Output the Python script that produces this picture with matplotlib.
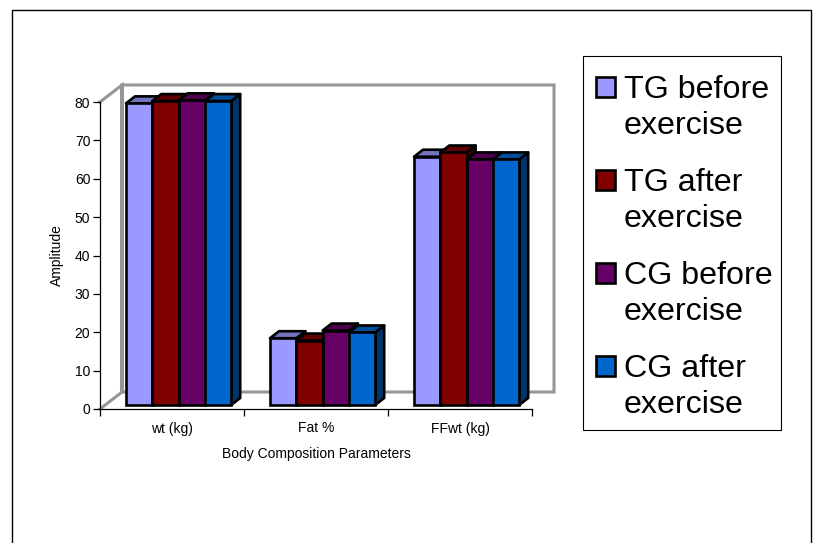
import matplotlib
matplotlib.use("Agg")
import matplotlib.pyplot as plt
from matplotlib.patches import Patch, Polygon, Rectangle
from matplotlib.legend_handler import HandlerPatch

categories = ["wt (kg)", "Fat %", "FFwt (kg)"]
series_names = ["TG before\nexercise", "TG after\nexercise", "CG before\nexercise", "CG after\nexercise"]
tg_before = [78.6, 17.4, 64.7]
tg_after = [79.2, 16.8, 65.8]
cg_before = [79.4, 19.4, 64.0]
cg_after = [79.2, 18.9, 64.0]
y_ticks = [0, 10, 20, 30, 40, 50, 60, 70, 80]

front_colors = ["#9999ff", "#800000", "#660066", "#0066cc"]
top_colors = ["#7373bf", "#600000", "#4d004d", "#004d99"]
side_colors = ["#4d4d80", "#400000", "#330033", "#003366"]

W, H = 815, 543
plt.rcParams["font.family"] = ["Liberation Sans", "DejaVu Sans"]

fig = plt.figure(figsize=(W / 100, H / 100), dpi=100)

# plot area in pixels: x 100-532, y 409-102
ax = fig.add_axes([100 / W, 1 - 409 / H, 432 / W, 307 / H])
ax.set_xlim(0, 3)
ax.set_ylim(0, 80)
ax.patch.set_alpha(0)
px_x = 3 / 432
px_y = 80 / 307

# outer frame, runs off the bottom of the picture
fig.add_artist(Rectangle((12 / W, -5 / H), 799 / W, 1 - 5 / H, transform=fig.transFigure,
                         fill=False, ec="black", lw=1.0))

# back wall
wall_dx = 22 * px_x
wall_dy = 17 * px_y
wall_x = [0, wall_dx, wall_dx, 3 + wall_dx, 3 + wall_dx, wall_dx, wall_dx, 0]
wall_y = [0, wall_dy, 80 + wall_dy, 80 + wall_dy, wall_dy, wall_dy, 80 + wall_dy, 80]
ax.plot(wall_x, wall_y, color="#969696", lw=2.2, clip_on=False, zorder=1, solid_joinstyle="miter")

# bars with fake 3d depth
bar_w = 26.3 * px_x
depth_x = 9 * px_x
depth_y = 7 * px_y
base = 4 * px_y
start = 26 * px_x
for i, vals in enumerate([tg_before, tg_after, cg_before, cg_after]):
    for j, v in enumerate(vals):
        x0 = j + start + i * bar_w
        x1 = x0 + bar_w
        top = base + v
        ax.add_patch(Polygon([(x1, base), (x1 + depth_x, base + depth_y), (x1 + depth_x, top + depth_y), (x1, top)],
                             fc=side_colors[i], ec="black", lw=1.9, clip_on=False, zorder=3 + i * 0.1, joinstyle="round"))
        ax.add_patch(Polygon([(x0, top), (x0 + depth_x, top + depth_y), (x1 + depth_x, top + depth_y), (x1, top)],
                             fc=top_colors[i], ec="black", lw=1.9, clip_on=False, zorder=3 + i * 0.1, joinstyle="round"))
        ax.bar(x0, v, bar_w, bottom=base, align="edge", color=front_colors[i], edgecolor="black",
               linewidth=1.9, clip_on=False, zorder=3.05 + i * 0.1)

ax.spines["top"].set_visible(False)
ax.spines["right"].set_visible(False)
ax.spines["left"].set_linewidth(0.9)
ax.spines["bottom"].set_linewidth(0.9)
ax.set_yticks(y_ticks)
ax.set_xticks([0, 1, 2, 3])
ax.set_xticklabels([])
ax.set_xticks([0.5, 1.5, 2.5], categories, minor=True)
ax.tick_params(axis="x", which="major", length=5, width=0.9)
ax.tick_params(axis="x", which="minor", length=0, labelsize=10, pad=9)
ax.tick_params(axis="y", length=5, width=0.9, labelsize=10, pad=2)
ax.set_xlabel("Body Composition Parameters", fontsize=10, labelpad=8)
ax.set_ylabel("Amplitude", fontsize=10, labelpad=7.5)


# legend swatch sits on the first line of the label
def first_line_swatch(legend, orig_handle, xdescent, ydescent, width, height, fontsize):
    return Rectangle((0, 0.69 * fontsize), width, height)


fig.add_artist(Rectangle((583 / W, 1 - 430 / H), 198 / W, 374 / H, transform=fig.transFigure,
                         fc="white", ec="black", lw=0.8, zorder=2))
handles = [Patch(fc=c, ec="black", lw=1.9) for c in front_colors]
leg = fig.legend(handles, series_names, loc="upper left", bbox_to_anchor=(596 / W, 1 - 75 / H),
                 borderaxespad=0, borderpad=0, fontsize=23.2, frameon=False,
                 handlelength=0.58, handleheight=0.58, handletextpad=0.28, labelspacing=0.82,
                 handler_map={Patch: HandlerPatch(patch_func=first_line_swatch)})
leg.set_zorder(3)
for t in leg.get_texts():
    t.set_linespacing(1.28)

fig.savefig("out.png", dpi=100)
